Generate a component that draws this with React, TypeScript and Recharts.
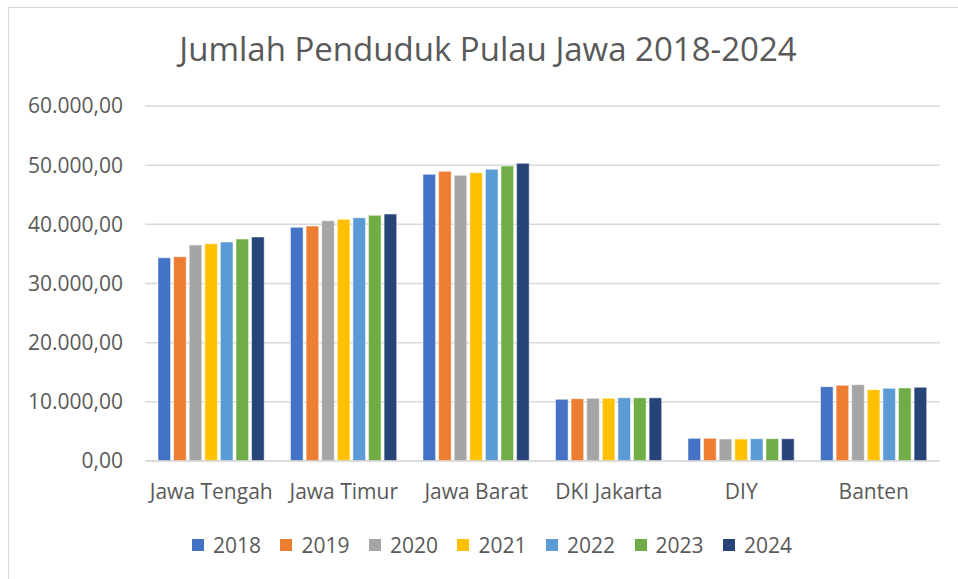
import { BarChart, Bar, XAxis, YAxis, CartesianGrid, Legend } from 'recharts'

const provinces = ['Jawa Tengah', 'Jawa Timur', 'Jawa Barat', 'DKI Jakarta', 'DIY', 'Banten']
const years = ['2018', '2019', '2020', '2021', '2022', '2023', '2024']
const colors = ['#4472C4', '#ED7D31', '#A5A5A5', '#FFC000', '#5B9BD5', '#70AD47', '#264478']

// jumlah penduduk (ribu jiwa) per tahun, urut sesuai provinces
const y2018 = [34360, 39490, 48450, 10430, 3830, 12560]
const y2019 = [34530, 39720, 48960, 10530, 3840, 12790]
const y2020 = [36500, 40610, 48280, 10600, 3720, 12900]
const y2021 = [36730, 40850, 48730, 10600, 3710, 12050]
const y2022 = [37010, 41120, 49300, 10700, 3770, 12280]
const y2023 = [37520, 41520, 49860, 10680, 3770, 12340]
const y2024 = [37860, 41740, 50310, 10680, 3760, 12460]
const yTicks = [0, 10000, 20000, 30000, 40000, 50000, 60000]

const series = [y2018, y2019, y2020, y2021, y2022, y2023, y2024]
const data = provinces.map((p, i) => {
  const row: Record<string, any> = { name: p }
  years.forEach((y, j) => (row[y] = series[j][i]))
  return row
})

const FONT = '"Open Sans", sans-serif'
const TEXT = '#595959'

function fmtId(v: number): string {
  const int = Math.round(v).toString().replace(/\B(?=(\d{3})+(?!\d))/g, '.')
  return `${int},00`
}

function LegendContent() {
  return (
    <div style={{ display: 'flex', justifyContent: 'center', gap: 19.5, fontFamily: FONT, fontSize: 21, color: TEXT, paddingLeft: 44 }}>
      {years.map((y, i) => (
        <span key={y} style={{ display: 'flex', alignItems: 'center' }}>
          <span style={{ width: 12, height: 12, background: colors[i], marginRight: 9, display: 'inline-block' }} />
          {y}
        </span>
      ))}
    </div>
  )
}

export default function App() {
  return (
    <div style={{ position: 'absolute', left: 0, top: 0, width: 958, height: 579, overflow: 'hidden', background: '#fff' }}>
      <div style={{ position: 'absolute', left: 8, top: 7, width: 950, height: 572, borderLeft: '1.5px solid #d9d9d9', borderTop: '1.5px solid #d9d9d9' }} />
      <div style={{ position: 'absolute', left: 0, top: 26, width: 976, textAlign: 'center', fontFamily: FONT, fontSize: 33, color: TEXT }}>
        Jumlah Penduduk Pulau Jawa 2018-2024
      </div>
      <div style={{ position: 'absolute', left: 0, top: 0 }}>
        <BarChart
          width={958}
          height={579}
          data={data}
          margin={{ top: 106, right: 18, left: 0, bottom: 0 }}
          barSize={12.6}
          barGap={3}
        >
          <CartesianGrid vertical={false} stroke="#d9d9d9" strokeWidth={1.5} />
          <XAxis
            dataKey="name"
            axisLine={{ stroke: '#d9d9d9', strokeWidth: 1.5 }}
            tickLine={false}
            tick={{ fill: TEXT, fontSize: 21, fontFamily: FONT }}
            tickMargin={17}
            height={90}
            interval={0}
          />
          <YAxis
            width={145}
            domain={[0, 60000]}
            ticks={yTicks}
            axisLine={false}
            tickLine={false}
            tickFormatter={fmtId}
            tick={{ fill: TEXT, fontSize: 21, fontFamily: FONT }}
            tickMargin={16}
          />
          <Legend verticalAlign="bottom" content={<LegendContent />} wrapperStyle={{ bottom: 20 }} />
          {years.map((y, i) => (
            <Bar key={y} dataKey={y} fill={colors[i]} stroke="#ffffff" strokeWidth={0.5} isAnimationActive={false} />
          ))}
        </BarChart>
      </div>
    </div>
  )
}
